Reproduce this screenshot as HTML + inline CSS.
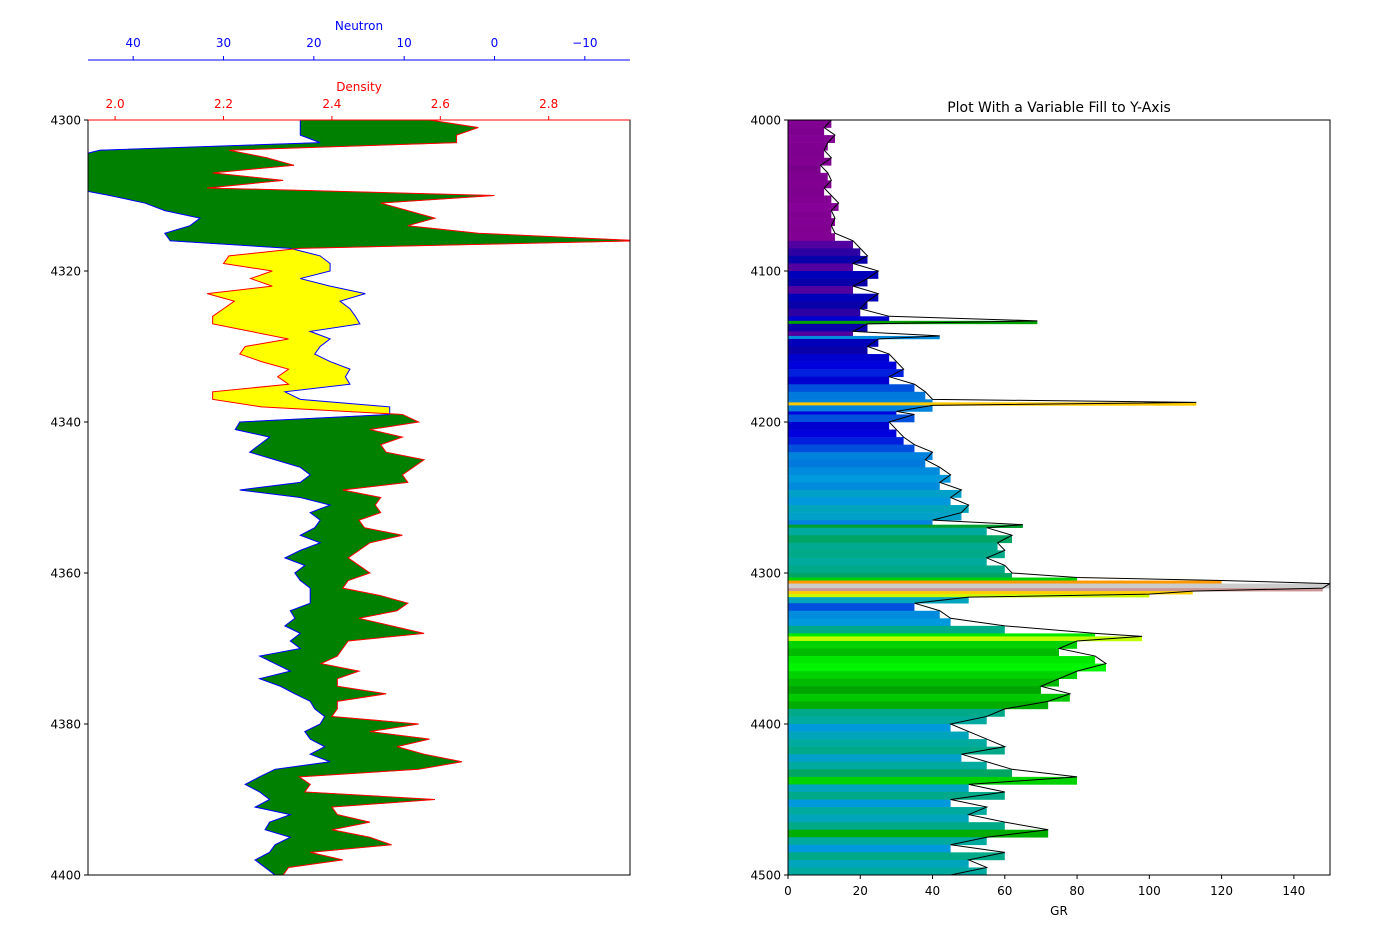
<!DOCTYPE html>
<html><head><meta charset="utf-8">
<style>
body{margin:0;background:#fff;font-family:"Liberation Sans","DejaVu Sans",sans-serif;}
svg text{font-family:"DejaVu Sans","Liberation Sans",sans-serif;font-size:12px;}
</style></head>
<body>
<svg id="chart" width="1400" height="947" viewBox="0 0 1400 947" xmlns="http://www.w3.org/2000/svg">
<rect width="1400" height="947" fill="#fff"/>
<g id="left"></g>
<g id="right"></g>
</svg>
<script>
// ---- Left track data (depth 4300-4400, 1 ft steps) ----
const ldepth = [];
for (let i = 0; i <= 100; i++) ldepth.push(4300 + i);
const density = [2.58,2.67,2.63,2.63,2.21,2.28,2.33,2.18,2.31,2.17,2.70,2.49,2.54,2.59,2.54,2.67,2.97,2.34,2.21,2.20,
2.29,2.25,2.29,2.17,2.22,2.20,2.18,2.18,2.25,2.32,2.24,2.23,2.27,2.32,2.30,2.32,2.18,2.18,2.27,2.53,
2.56,2.47,2.53,2.49,2.50,2.57,2.55,2.53,2.54,2.42,2.49,2.48,2.49,2.45,2.46,2.53,2.47,2.45,2.43,2.45,
2.47,2.43,2.42,2.49,2.54,2.52,2.45,2.51,2.57,2.43,2.42,2.41,2.38,2.45,2.41,2.41,2.50,2.41,2.41,2.40,
2.56,2.47,2.58,2.52,2.57,2.64,2.56,2.34,2.36,2.35,2.59,2.40,2.41,2.47,2.40,2.47,2.51,2.36,2.42,2.32,2.31];
const neutron = [21.5,21.5,21.5,19.3,43.7,47,48,47,46,47,42.6,38.7,36.5,32.6,33.7,36.5,35.9,22.6,19.3,18.2,
18.2,21.5,18.2,14.3,17.1,16.0,15.4,14.9,20.4,18.2,19.3,19.9,18.2,16.0,16.5,16.0,23.2,21.5,11.6,11.6,
28.2,28.7,24.9,26.0,27.1,24.3,21.5,20.4,21.5,28.2,21.5,18.2,20.4,19.3,19.9,21.5,19.3,21.5,23.2,21.0,
22.1,21.5,20.4,20.4,20.4,22.6,22.1,23.2,21.5,22.6,21.5,26.0,24.3,22.6,26.0,23.7,22.1,20.4,19.9,18.8,
19.3,21.0,20.4,18.8,20.4,18.2,24.3,26.0,27.6,26.0,24.9,26.5,22.6,24.9,25.4,22.6,24.3,24.9,26.5,25.4,24.3];
const depthTicksL = [4300,4320,4340,4360,4380,4400];
const densTicks = [2.0,2.2,2.4,2.6,2.8];
const neutTicks = [40,30,20,10,0,-10];

// ---- Right track data ----
const rdepth = [4000,4005,4010,4015,4020,4025,4030,4035,4040,4045,4050,4055,4060,4065,4070,4075,4080,4085,4090,4095,
4100,4105,4110,4115,4120,4125,4130,4133,4135,4140,4143,4145,4150,4155,4160,4165,4170,4175,4180,4185,4187,4189,
4193,4195,4200,4205,4210,4215,4220,4225,4230,4235,4240,4245,4250,4255,4260,4265,4268,4270,4275,4280,4285,4290,4295,
4300,4303,4305,4307,4310,4312,4314,4316,4320,4325,4330,4335,4340,4342,4345,4350,4355,4360,4365,4370,4375,4380,4385,
4390,4395,4400,4405,4410,4415,4420,4425,4430,4435,4440,4445,4450,4455,4460,4465,4470,4475,4480,4485,4490,4495,4500];
const gr = [12,10,13,11,10,12,9,11,12,10,12,14,12,13,12,13,18,20,22,18,
25,22,18,25,22,20,28,69,22,18,42,25,22,28,30,32,28,35,38,40,113,40,
30,35,28,30,32,35,40,38,42,45,42,48,45,50,48,40,65,55,62,58,60,55,60,
62,80,120,150,148,112,100,50,35,42,45,60,85,98,80,75,85,88,80,75,70,78,72,
60,55,45,50,55,60,48,55,62,80,50,60,45,55,50,60,72,55,45,60,50,55,45];
const depthTicksR = [4000,4100,4200,4300,4400,4500];
const grTicks = [0,20,40,60,80,100,120,140];

const NS = "http://www.w3.org/2000/svg";
function mk(parent, tag, attrs, text) {
  const e = document.createElementNS(NS, tag);
  for (const k in attrs) e.setAttribute(k, attrs[k]);
  if (text !== undefined) e.textContent = text;
  parent.appendChild(e);
  return e;
}

// Left axes
const L = {x0:88, x1:630, y0:120, y1:875};
const yL = d => L.y0 + (d - 4300) / 100 * (L.y1 - L.y0);
const xD = v => L.x0 + (v - 1.95) / 1.0 * (L.x1 - L.x0);
const xN = v => L.x0 + (45 - v) / 60 * (L.x1 - L.x0);
const left = document.getElementById('left');
const clipL = mk(left, 'clipPath', {id:'clipL'});
mk(clipL, 'rect', {x:L.x0, y:L.y0, width:L.x1-L.x0, height:L.y1-L.y0});
const fillG = mk(left, 'g', {'clip-path':'url(#clipL)'});


function quad(pts, col) {
  const p = mk(fillG, 'polygon', {points: pts.map(q => q.join(',')).join(' '), fill: col, stroke: col, 'stroke-width': 0.6});
  
  
}
for (let i = 0; i < ldepth.length - 1; i++) {
  const ya = yL(ldepth[i]), yb = yL(ldepth[i+1]);
  const da = xD(density[i]), db = xD(density[i+1]);
  const na = xN(neutron[i]), nb = xN(neutron[i+1]);
  const sa = da - na, sb = db - nb;
  const ca = sa >= 0 ? 'green' : 'yellow', cb = sb >= 0 ? 'green' : 'yellow';
  if (ca === cb) {
    quad([[da,ya],[db,yb],[nb,yb],[na,ya]], ca);
  } else {
    const t = sa / (sa - sb);
    const xc = da + t * (db - da), yc = ya + t * (yb - ya);
    quad([[da,ya],[xc,yc],[na,ya]], ca);
    quad([[xc,yc],[db,yb],[nb,yb]], cb);
  }
}
const nLine = mk(left, 'polyline', {points: ldepth.map((d,i)=>xN(neutron[i])+','+yL(d)).join(' '), fill:'none', stroke:'blue', 'stroke-width':1, 'clip-path':'url(#clipL)'});


const dLine = mk(left, 'polyline', {points: ldepth.map((d,i)=>xD(density[i])+','+yL(d)).join(' '), fill:'none', stroke:'red', 'stroke-width':1, 'clip-path':'url(#clipL)'});


mk(left, 'rect', {x:L.x0, y:L.y0, width:L.x1-L.x0, height:L.y1-L.y0, fill:'none', stroke:'#000', 'stroke-width':1});
mk(left, 'line', {x1:L.x0, x2:L.x1, y1:L.y0, y2:L.y0, stroke:'red', 'stroke-width':1});
depthTicksL.forEach(d => {
  const y = yL(d);
  mk(left, 'line', {x1:L.x0-4, x2:L.x0, y1:y, y2:y, stroke:'#000'});
  const t = mk(left, 'text', {x:L.x0-7, y:y+4.5, 'text-anchor':'end', fill:'#000'}, String(d));
  
  
});
densTicks.forEach(v => {
  const x = xD(v);
  mk(left, 'line', {x1:x, x2:x, y1:L.y0-4, y2:L.y0, stroke:'red'});
  const t = mk(left, 'text', {x:x, y:L.y0-12, 'text-anchor':'middle', fill:'red'}, v.toFixed(1));
  
  
});
const dt = mk(left, 'text', {x:359, y:91, 'text-anchor':'middle', fill:'red'}, 'Density');


mk(left, 'line', {x1:L.x0, x2:L.x1, y1:60, y2:60, stroke:'blue', 'stroke-width':1});
neutTicks.forEach(v => {
  const x = xN(v);
  mk(left, 'line', {x1:x, x2:x, y1:56, y2:60, stroke:'blue'});
  const t = mk(left, 'text', {x:x, y:47, 'text-anchor':'middle', fill:'blue'}, v < 0 ? '\u2212' + Math.abs(v) : String(v));
  
  
});
const nt = mk(left, 'text', {x:359, y:30, 'text-anchor':'middle', fill:'blue'}, 'Neutron');



// Right axes
const R = {x0:788, x1:1330, y0:120, y1:875};
const yR = d => R.y0 + (d - 4000) / 500 * (R.y1 - R.y0);
const xG = v => R.x0 + v / 150 * (R.x1 - R.x0);
const stops = [[0,0,0,0],[0.05,.4667,0,.5333],[0.10,.5333,0,.6],[0.15,0,0,.6667],[0.20,0,0,.8667],[0.25,0,.4667,.8667],
[0.30,0,.6,.8667],[0.35,0,.6667,.6667],[0.40,0,.6667,.5333],[0.45,0,.6,0],[0.50,0,.7333,0],[0.55,0,.8667,0],[0.60,0,1,0],
[0.65,.7333,1,0],[0.70,.9333,.9333,0],[0.75,1,.8,0],[0.80,1,.6,0],[0.85,1,0,0],[0.90,.8667,0,0],[0.95,.8,0,0],[1.0,.8,.8,.8]];
function cmap(t) {
  t = Math.max(0, Math.min(1, t));
  for (let i = 0; i < stops.length - 1; i++) {
    const a = stops[i], b = stops[i+1];
    if (t <= b[0]) {
      const f = (t - a[0]) / (b[0] - a[0]);
      const c = [1,2,3].map(k => Math.round(255 * (a[k] + f * (b[k] - a[k]))));
      return 'rgb(' + c.join(',') + ')';
    }
  }
  return 'rgb(204,204,204)';
}
const right = document.getElementById('right');
const clipR = mk(right, 'clipPath', {id:'clipR'});
mk(clipR, 'rect', {x:R.x0, y:R.y0, width:R.x1-R.x0, height:R.y1-R.y0});
const barG = mk(right, 'g', {'clip-path':'url(#clipR)'});


for (let i = 0; i < rdepth.length - 1; i++) {
  const y = yR(rdepth[i]), h = yR(rdepth[i+1]) - y;
  const r = mk(barG, 'rect', {x:R.x0, y:y, width:Math.max(0, xG(gr[i]) - R.x0), height:h + 0.3, fill:cmap(gr[i] / 150)});
  
  
}
const gLine = mk(right, 'polyline', {points: rdepth.map((d,i)=>xG(gr[i])+','+yR(d)).join(' '), fill:'none', stroke:'#000', 'stroke-width':1, 'clip-path':'url(#clipR)'});


mk(right, 'rect', {x:R.x0, y:R.y0, width:R.x1-R.x0, height:R.y1-R.y0, fill:'none', stroke:'#000', 'stroke-width':1});
depthTicksR.forEach(d => {
  const y = yR(d);
  mk(right, 'line', {x1:R.x0-4, x2:R.x0, y1:y, y2:y, stroke:'#000'});
  const t = mk(right, 'text', {x:R.x0-7, y:y+4.5, 'text-anchor':'end'}, String(d));
  
  
});
grTicks.forEach(v => {
  const x = xG(v);
  mk(right, 'line', {x1:x, x2:x, y1:R.y1, y2:R.y1+4, stroke:'#000'});
  const t = mk(right, 'text', {x:x, y:R.y1+20, 'text-anchor':'middle'}, String(v));
  
  
});
const gt = mk(right, 'text', {x:1059, y:915, 'text-anchor':'middle'}, 'GR');


const tt = mk(right, 'text', {x:1059, y:112, 'text-anchor':'middle'}, 'Plot With a Variable Fill to Y-Axis');
tt.setAttribute('style', 'font-size:14px');


</script>
</body></html>
